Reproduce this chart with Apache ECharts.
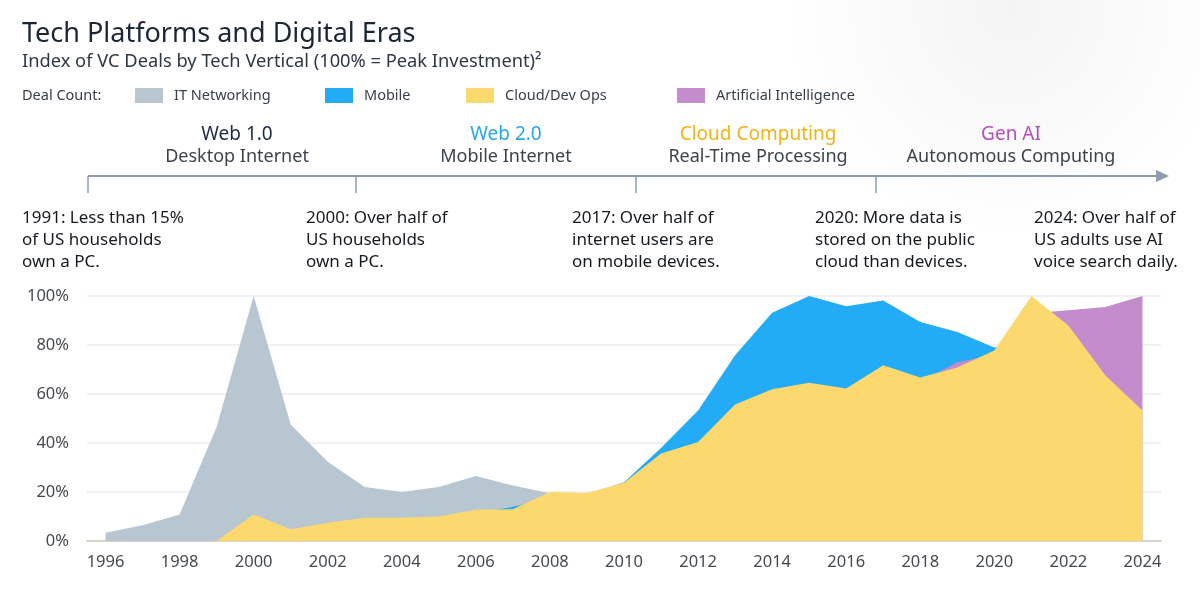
<!DOCTYPE html>
<html>
<head>
<meta charset="utf-8">
<title>Tech Platforms and Digital Eras</title>
<script src="https://cdn.jsdelivr.net/npm/echarts@6/dist/echarts.min.js"></script>
<style>
    html, body { margin: 0; padding: 0; background: #fff; }
    #chart { width: 1200px; height: 602px; }
</style>
</head>
<body>
<div id="chart"></div>
<script>
// index of VC deal count, 100 = peak year for each vertical
var years = [1996, 1997, 1998, 1999, 2000, 2001, 2002, 2003, 2004, 2005,
    2006, 2007, 2008, 2009, 2010, 2011, 2012, 2013, 2014, 2015,
    2016, 2017, 2018, 2019, 2020, 2021, 2022, 2023, 2024];
var tickYears = [1996, 1998, 2000, 2002, 2004, 2006, 2008, 2010, 2012, 2014, 2016, 2018, 2020, 2022, 2024];

var itNetworking = [3.4, 6.4, 10.8, 46.5, 100, 47.6, 32.3, 22, 20, 22,
    26.5, 22.7, 19.5, null, null, null, null, null, null, null,
    null, null, null, null, null, null, null, null, null];
var mobile = [null, null, null, null, null, null, null, null, null, null,
    11, 14, 17, 19, 24, 38, 53.3, 75.8, 93.2, 100,
    95.8, 98.2, 89.4, 85.3, 79, 82, null, null, null];
var artificialIntel = [null, null, null, null, null, null, null, null, null, null,
    null, null, null, null, null, null, null, null, null, null,
    null, null, 65, 73, 76, 93, 94.2, 95.5, 100];
var cloudDevOps = [0, 0, 0, 0, 10.8, 4.8, 7.5, 9.5, 9.5, 10,
    12.8, 13, 20, 19.6, 23.8, 35.7, 40.4, 55.7, 61.9, 64.6,
    62.2, 71.7, 66.7, 70.8, 77.8, 100, 88, 67.6, 53.3];

var eras = [
    { name: 'Web 1.0', sub: 'Desktop Internet', color: '#1d2b45', x: 237 },
    { name: 'Web 2.0', sub: 'Mobile Internet', color: '#2aa6e6', x: 506 },
    { name: 'Cloud Computing', sub: 'Real-Time Processing', color: '#f3b312', x: 758 },
    { name: 'Gen AI', sub: 'Autonomous Computing', color: '#b54dc2', x: 1011 }
];
var eraTicks = [88, 356, 636, 876];
var notes = [
    { x: 22, lines: ['1991: Less than 15%', 'of US households', 'own a PC.'] },
    { x: 306, lines: ['2000: Over half of', 'US households', 'own a PC.'] },
    { x: 572, lines: ['2017: Over half of', 'internet users are', 'on mobile devices.'] },
    { x: 815, lines: ['2020: More data is', 'stored on the public', 'cloud than devices.'] },
    { x: 1034, lines: ['2024: Over half of', 'US adults use AI', 'voice search daily.'] }
];

var FONT = '"Noto Sans", sans-serif';

function pairs(vals) {
    return years.map(function (y, i) { return [y, vals[i]]; });
}

function areaSeries(name, color, vals) {
    return {
        name: name,
        type: 'line',
        data: pairs(vals),
        symbol: 'none',
        color: color,
        lineStyle: { width: 0 },
        areaStyle: { color: color, opacity: 1 },
        emphasis: { disabled: true }
    };
}

function legendAt(name, left) {
    return {
        data: [name],
        left: left,
        top: 88,
        padding: 0,
        icon: 'rect',
        itemWidth: 28,
        itemHeight: 15,
        textStyle: { fontFamily: FONT, fontSize: 14.5, color: '#39404a', padding: [0, 0, 0, 6] }
    };
}

var graphics = [
    {
        type: 'circle', shape: { cx: 1010, cy: 10, r: 230 }, silent: true,
        style: {
            fill: {
                type: 'radial', x: 0.5, y: 0.5, r: 0.5,
                colorStops: [{ offset: 0, color: 'rgba(0,0,0,0.045)' }, { offset: 1, color: 'rgba(0,0,0,0)' }]
            }
        }
    },
    { type: 'text', x: 22, y: 34, style: { text: 'Tech Platforms and Digital Eras', font: '27px ' + FONT, fill: '#1c2636', textVerticalAlign: 'middle' } },
    { type: 'text', x: 22, y: 62, style: { text: 'Index of VC Deals by Tech Vertical (100% = Peak Investment)²', font: '18.3px ' + FONT, fill: '#2e3744', textVerticalAlign: 'middle' } },
    { type: 'text', x: 22, y: 96, style: { text: 'Deal Count:', font: '14.5px ' + FONT, fill: '#39404a', textVerticalAlign: 'middle' } },
    { type: 'line', shape: { x1: 88, y1: 176, x2: 1160, y2: 176 }, style: { stroke: '#8c9cae', lineWidth: 2 } },
    { type: 'polygon', shape: { points: [[1156, 170], [1169, 176], [1156, 182]] }, style: { fill: '#8c9cae' } }
];
eraTicks.forEach(function (x) {
    graphics.push({ type: 'line', shape: { x1: x, y1: 176, x2: x, y2: 193 }, style: { stroke: '#8c9cae', lineWidth: 1.5 } });
});
eras.forEach(function (e) {
    graphics.push({ type: 'text', x: e.x, y: 135, style: { text: e.name, font: '19px ' + FONT, fill: e.color, textAlign: 'center', textVerticalAlign: 'middle' } });
    graphics.push({ type: 'text', x: e.x, y: 157, style: { text: e.sub, font: '18px ' + FONT, fill: '#3d434b', textAlign: 'center', textVerticalAlign: 'middle' } });
});
notes.forEach(function (n) {
    n.lines.forEach(function (t, i) {
        graphics.push({ type: 'text', x: n.x, y: 218 + i * 22, style: { text: t, font: '17px ' + FONT, fill: '#151a20', textVerticalAlign: 'middle' } });
    });
});

var chart = echarts.init(document.getElementById('chart'));
chart.setOption({
    animation: false,
    backgroundColor: '#ffffff',
    graphic: graphics,
    legend: [
        legendAt('IT Networking', 135),
        legendAt('Mobile', 325),
        legendAt('Cloud/Dev Ops', 466),
        legendAt('Artificial Intelligence', 677)
    ],
    grid: {
        left: 87,
        right: 39,
        top: 296,
        bottom: 61,
        outerBoundsMode: 'none'
    },
    xAxis: {
        type: 'value',
        min: 1995.5,
        max: 2024.5,
        axisLine: { lineStyle: { color: '#d9d3c8', width: 2 } },
        axisTick: { show: false },
        splitLine: { show: false },
        axisLabel: {
            customValues: tickYears,
            formatter: function (v) { return String(v); },
            margin: 13,
            fontFamily: FONT,
            fontSize: 16.5,
            color: '#454a50'
        }
    },
    yAxis: {
        type: 'value',
        min: 0,
        max: 100,
        interval: 20,
        axisLine: { show: false },
        axisTick: { show: false },
        splitLine: { lineStyle: { color: '#ececec', width: 1.5 } },
        axisLabel: {
            formatter: '{value}%',
            margin: 18,
            fontFamily: FONT,
            fontSize: 16.5,
            color: '#454a50'
        }
    },
    series: [
        areaSeries('IT Networking', '#b8c6d2', itNetworking),
        areaSeries('Mobile', '#23abf5', mobile),
        areaSeries('Artificial Intelligence', '#c48bcd', artificialIntel),
        areaSeries('Cloud/Dev Ops', '#fbd96e', cloudDevOps)
    ]
});
</script>
</body>
</html>
